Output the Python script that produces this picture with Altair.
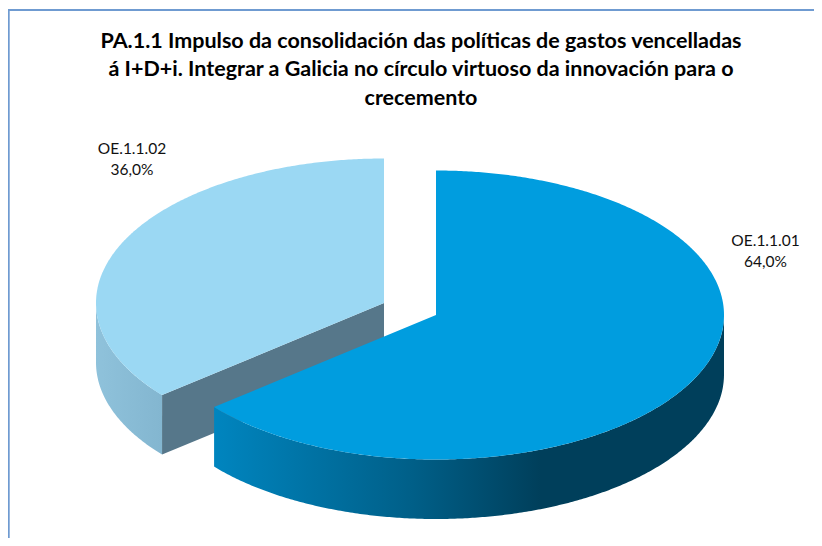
import math
import altair as alt
import pandas as pd

categories = ["OE.1.1.01", "OE.1.1.02"]
shares = [64.0, 36.0]
pct_labels = ["64,0%", "36,0%"]
title_lines = [
    "PA.1.1 Impulso da consolidación das políticas de gastos vencelladas",
    "á I+D+i. Integrar a Galicia no círculo virtuoso da innovación para o",
    "crecemento",
]

W, H = 806, 530
RX, RY, DEPTH = 288.0, 144.5, 59.5
CENTERS = {"OE.1.1.01": (428.0, 307.0), "OE.1.1.02": (376.0, 295.0)}
LABEL_XY = {"OE.1.1.01": (757.5, 243), "OE.1.1.02": (124, 151)}


def pt(c, a, dy=0.0):
    r = math.radians(a)
    return [c[0] + RX * math.sin(r), c[1] - RY * math.cos(r) + dy]


def arc(c, a0, a1, dy=0.0):
    n = max(2, int(abs(a1 - a0)) * 2)
    return [pt(c, a0 + (a1 - a0) * i / n, dy) for i in range(n + 1)]


def feature(name, kind, ring):
    coords = [ring + [ring[0]]] if kind == "Polygon" else ring
    return {"type": "Feature", "properties": {"name": name}, "geometry": {"type": kind, "coordinates": coords}}


# slice angles follow from the shares, clockwise from twelve o'clock
total = sum(shares)
split = 360.0 * shares[0] / total
blue, light = CENTERS[categories[0]], CENTERS[categories[1]]

blue_top = feature("top", "Polygon", [list(blue)] + arc(blue, 0, split))
light_top = feature("top", "Polygon", [list(light)] + arc(light, split, 360))
blue_rim = feature("rim", "Polygon", arc(blue, 90, split) + arc(blue, split, 90, DEPTH))
light_rim = feature("rim", "Polygon", arc(light, split, 270) + arc(light, 270, split, DEPTH))
cut_a = pt(light, split)
light_cut = feature(
    "cut", "Polygon",
    [cut_a, list(light), [light[0], light[1] + DEPTH], [cut_a[0], cut_a[1] + DEPTH]],
)
frame = feature("frame", "LineString", [[0.8, H + 5], [0.8, 2.0], [W + 5, 2.0]])

proj = alt.Projection(type="identity", scale=1, translate=[0, 0])


def shape(feat, **mark):
    return alt.Chart(alt.Data(values=[feat])).mark_geoshape(**mark).project(**proj.to_dict())


grad_blue = alt.Gradient(
    gradient="linear", x1=0, x2=1, y1=0, y2=0,
    stops=[
        alt.GradientStop(offset=0, color="#0085bf"),
        alt.GradientStop(offset=0.39, color="#005f88"),
        alt.GradientStop(offset=0.64, color="#003f5b"),
        alt.GradientStop(offset=1, color="#003f5b"),
    ],
)
grad_light = alt.Gradient(
    gradient="linear", x1=0, x2=1, y1=0, y2=0,
    stops=[
        alt.GradientStop(offset=0, color="#8fc2db"),
        alt.GradientStop(offset=1, color="#83b6d0"),
    ],
)

labels = pd.DataFrame({
    "cat": categories,
    "pct": pct_labels,
    "x": [LABEL_XY[c][0] for c in categories],
    "y": [LABEL_XY[c][1] for c in categories],
})
labels["txt"] = labels["cat"] + "\n" + labels["pct"]

text = alt.Chart(labels).mark_text(
    font="Lato", fontSize=15.5, color="#111111", align="center", baseline="middle",
    lineBreak="\n", lineHeight=20.5,
).encode(
    x=alt.X("x:Q", scale=None),
    y=alt.Y("y:Q", scale=None, axis=None),
    text="txt:N",
    yOffset=alt.value(-10),
)

chart = alt.layer(
    shape(frame, filled=False, stroke="#6f9bd1", strokeWidth=1.8),
    shape(light_rim, fill=grad_light, stroke=None),
    shape(light_cut, fill="#56778a"),
    shape(light_top, fill="#9bd8f3"),
    shape(blue_rim, fill=grad_blue),
    shape(blue_top, fill="#009ddf"),
    text,
).properties(
    width=W,
    height=H,
    padding=0,
    autosize=alt.AutoSizeParams(type="none"),
    background="#ffffff",
    title=alt.TitleParams(
        text=title_lines,
        font="Lato", fontSize=21.5, fontWeight="bold", color="#000000",
        anchor="middle", frame="group", lineHeight=28.5, dx=10, dy=105,
    ),
).configure_view(stroke=None)

chart.save("out.html", embed_options={"renderer": "svg", "actions": False})
